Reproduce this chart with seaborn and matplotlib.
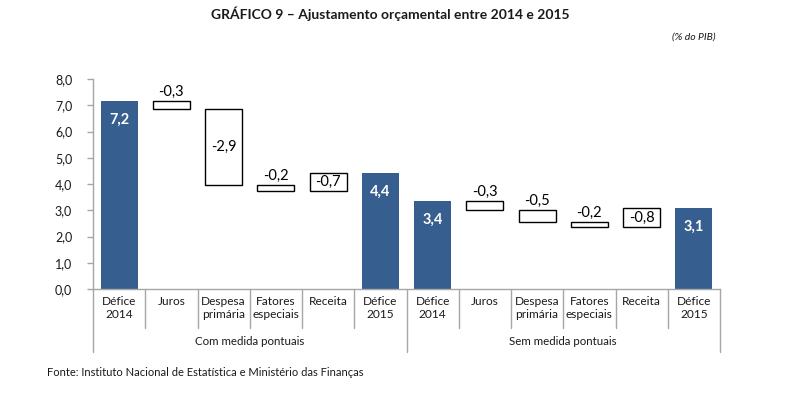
import matplotlib
matplotlib.use("Agg")
import matplotlib.pyplot as plt
import matplotlib.transforms as mtransforms
import seaborn as sns
import pandas as pd
import numpy as np

# ---- data ----
grupos = ["Com medida pontuais", "Sem medida pontuais"]
categorias = ["Défice\n2014", "Juros", "Despesa\nprimária", "Fatores\nespeciais", "Receita", "Défice\n2015"]
# deficit levels (% do PIB)
defice_2014 = [7.15, 3.35]
defice_2015 = [4.41, 3.07]
# effect of each component on the deficit (Juros, Despesa primária, Fatores especiais, Receita)
efeitos_com = [-0.31, -2.89, -0.23, 0.69]
efeitos_sem = [-0.34, -0.47, -0.19, 0.72]
# labels as printed on the chart
rotulos_com = ["7,2", "-0,3", "-2,9", "-0,2", "-0,7", "4,4"]
rotulos_sem = ["3,4", "-0,3", "-0,5", "-0,2", "-0,8", "3,1"]
yticks = [0, 1, 2, 3, 4, 5, 6, 7, 8]

# ---- build table ----
rows = []
efeitos = [efeitos_com, efeitos_sem]
rotulos = [rotulos_com, rotulos_sem]
for g, grupo in enumerate(grupos):
    level = defice_2014[g]
    for c, cat in enumerate(categorias):
        key = f"{g}-{c}"
        if c == 0:
            rows.append(dict(key=key, total=defice_2014[g], start=np.nan, delta=np.nan, label=rotulos[g][c], cat=cat, grupo=grupo))
        elif c == len(categorias) - 1:
            rows.append(dict(key=key, total=defice_2015[g], start=np.nan, delta=np.nan, label=rotulos[g][c], cat=cat, grupo=grupo))
        else:
            d = efeitos[g][c - 1]
            rows.append(dict(key=key, total=0.0, start=level, delta=d, label=rotulos[g][c], cat=cat, grupo=grupo))
            level = level + d
df = pd.DataFrame(rows)

# ---- figure ----
sns.set_theme(style="white")
plt.rcParams["font.family"] = ["Lato", "DejaVu Sans"]
fig = plt.figure(figsize=(7.89, 3.95), dpi=100)
ax = fig.add_axes([93 / 789, 1 - 289 / 395, (720 - 93) / 789, 210 / 395])

blue = "#365E8F"
grey = "#A6A6A6"
txt = "#1a1a1a"
bw = 0.71

sns.barplot(data=df, x="key", y="total", order=list(df["key"]), color=blue,
            saturation=1, width=bw, ax=ax, edgecolor="none")

# floating boxes
xs = np.arange(len(df))
mask = df["delta"].notna().to_numpy()
ax.bar(xs[mask], df.loc[mask, "delta"], bottom=df.loc[mask, "start"], width=bw,
       facecolor="white", edgecolor="black", linewidth=1.0, zorder=3)

# value labels
for i, r in df.iterrows():
    if np.isnan(r["delta"]):
        ax.text(i, r["total"] - 0.7, r["label"], ha="center", va="center",
                color="white", fontsize=10.5, fontweight="bold")
    else:
        lo = min(r["start"], r["start"] + r["delta"])
        hi = max(r["start"], r["start"] + r["delta"])
        if hi - lo >= 0.6:
            ax.text(i, (lo + hi) / 2, r["label"], ha="center", va="center",
                    color="black", fontsize=10.5, zorder=4)
        else:
            ax.text(i, hi + 0.08, r["label"], ha="center", va="bottom",
                    color="black", fontsize=10.5, zorder=4)

ax.set_xlim(-0.5, len(df) - 0.5)
ax.set_ylim(0, 8)
ax.set_yticks(yticks)
ax.set_yticklabels([f"{v:.1f}".replace(".", ",") for v in yticks], fontsize=9, color=txt)
ax.tick_params(axis="y", length=4, width=1, color=grey, pad=11, left=True)
ax.set_xticks([])
ax.set_xlabel("")
ax.set_ylabel("")
for s in ["top", "right"]:
    ax.spines[s].set_visible(False)
for s in ["left", "bottom"]:
    ax.spines[s].set_color(grey)
    ax.spines[s].set_linewidth(1.0)

# two-level category axis
trans = mtransforms.blended_transform_factory(ax.transData, ax.transAxes)
n = len(categorias)
for i in range(len(df) + 1):
    x = i - 0.5
    depth = -0.30 if i % n == 0 else -0.186
    ax.plot([x, x], [0, depth], transform=trans, color=grey, lw=1.0, clip_on=False)
for i, r in df.iterrows():
    ax.text(i, -0.035, r["cat"], transform=trans, ha="center", va="top",
            fontsize=8.6, color=txt, linespacing=1.2)
for g, grupo in enumerate(grupos):
    ax.text(g * n + (n - 1) / 2, -0.252, grupo, transform=trans, ha="center", va="center",
            fontsize=8.3, color=txt)

# titles and notes
fig.text(390 / 789, 1 - 14 / 395, "GRÁFICO 9 – Ajustamento orçamental entre 2014 e 2015",
         ha="center", va="center", fontsize=10, fontweight="bold", color=txt)
fig.text(715 / 789, 1 - 37 / 395, "(% do PIB)", ha="right", va="center",
         fontsize=7.5, fontstyle="italic", color=txt)
fig.text(47 / 789, 1 - 372 / 395, "Fonte: Instituto Nacional de Estatística e Ministério das Finanças",
         ha="left", va="center", fontsize=8, color=txt)

fig.savefig("out.png", dpi=100)
